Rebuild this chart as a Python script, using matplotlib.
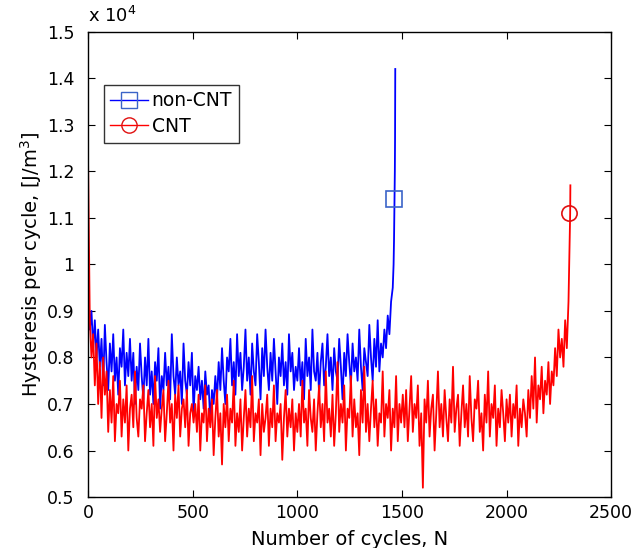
import matplotlib.pyplot as plt
import numpy as np
from matplotlib.lines import Line2D

# hysteresis per cycle, in units of 1e4 J/m^3, sampled every 8 cycles
noncnt_step = 8
noncnt_vals = [
    0.97, 0.86, 0.90, 0.82, 0.88, 0.80, 0.86,
    0.78, 0.84, 0.74, 0.87, 0.79, 0.73, 0.83, 0.77, 0.85, 0.75,
    0.80, 0.72, 0.82, 0.78, 0.86, 0.74, 0.81, 0.76, 0.84,
    0.75, 0.81, 0.70, 0.78, 0.73, 0.83, 0.76, 0.71, 0.80, 0.74,
    0.84, 0.72, 0.77, 0.70, 0.79, 0.75, 0.82, 0.69, 0.76, 0.73,
    0.81, 0.74, 0.78, 0.71, 0.85, 0.76, 0.72, 0.80, 0.74, 0.77,
    0.70, 0.83, 0.75, 0.72, 0.79, 0.74, 0.81, 0.68, 0.76, 0.73,
    0.78, 0.71, 0.75, 0.69, 0.77, 0.72, 0.74, 0.66, 0.73, 0.70,
    0.76, 0.71, 0.79, 0.73, 0.82, 0.75, 0.70, 0.80, 0.77, 0.84,
    0.74, 0.79, 0.72, 0.85, 0.76, 0.81, 0.73, 0.78, 0.86, 0.75,
    0.80, 0.72, 0.83, 0.77, 0.74, 0.85, 0.79, 0.71, 0.82, 0.76,
    0.86, 0.78, 0.73, 0.81, 0.75, 0.84, 0.77, 0.70, 0.80, 0.76,
    0.83, 0.74, 0.79, 0.72, 0.85, 0.77, 0.81, 0.73, 0.78, 0.75,
    0.82, 0.74, 0.79, 0.71, 0.84, 0.76, 0.80, 0.73, 0.86, 0.77,
    0.75, 0.81, 0.72, 0.79, 0.83, 0.74, 0.78, 0.85, 0.76, 0.80,
    0.73, 0.82, 0.77, 0.75, 0.84, 0.78, 0.71, 0.81, 0.76, 0.85,
    0.79, 0.74, 0.83, 0.77, 0.80, 0.75, 0.86, 0.78, 0.73, 0.82,
    0.79, 0.76, 0.87, 0.80, 0.75, 0.84, 0.78, 0.88, 0.77, 0.83,
    0.80, 0.86, 0.82, 0.89, 0.85, 0.92, 0.95,
]
# final run-up to failure
noncnt_tail_n = [1460, 1462, 1464, 1466, 1467, 1468]
noncnt_tail_v = [1.00, 1.05, 1.12, 1.20, 1.27, 1.42]

cnt_first_v = 1.21
cnt_step = 8
cnt_vals = [
    0.88, 0.80, 0.85, 0.74, 0.83, 0.70, 0.79, 0.67, 0.80, 0.72, 0.77, 0.64,
    0.73, 0.66, 0.76, 0.62, 0.70, 0.68, 0.75, 0.63, 0.71, 0.66,
    0.74, 0.60, 0.69, 0.72, 0.65, 0.77, 0.67, 0.63, 0.71, 0.69,
    0.74, 0.62, 0.68, 0.73, 0.65, 0.70, 0.61, 0.76, 0.67, 0.71,
    0.64, 0.69, 0.73, 0.62, 0.68, 0.75, 0.66, 0.70, 0.60, 0.72,
    0.67, 0.74, 0.63, 0.69, 0.71, 0.65, 0.73, 0.61, 0.68, 0.70,
    0.66,
    0.70, 0.64, 0.72, 0.60, 0.68, 0.66, 0.74, 0.62, 0.69, 0.65,
    0.71, 0.59, 0.67, 0.73, 0.63, 0.68, 0.57, 0.70, 0.65, 0.72,
    0.62, 0.69, 0.66, 0.75, 0.61, 0.68, 0.64, 0.71, 0.60, 0.67,
    0.73, 0.63, 0.69, 0.65, 0.76, 0.62, 0.68, 0.66, 0.71, 0.59,
    0.70, 0.64, 0.67, 0.72, 0.61, 0.69, 0.65, 0.74, 0.62, 0.68,
    0.66, 0.70, 0.58, 0.67, 0.73, 0.63, 0.69, 0.65, 0.71, 0.60,
    0.68, 0.64,
    0.70, 0.63, 0.75, 0.66, 0.69, 0.61, 0.73, 0.67, 0.64, 0.71,
    0.60, 0.68, 0.74, 0.65, 0.70, 0.62, 0.77, 0.66, 0.69, 0.63,
    0.72, 0.61, 0.68, 0.79, 0.64, 0.70, 0.66, 0.74, 0.60, 0.69,
    0.67, 0.76, 0.63, 0.71, 0.65, 0.68, 0.59, 0.73, 0.66, 0.78,
    0.64, 0.70, 0.62, 0.69, 0.75, 0.65, 0.71, 0.61, 0.68, 0.66,
    0.77, 0.63, 0.70, 0.67, 0.73, 0.60, 0.69, 0.65, 0.76, 0.62,
    0.70, 0.66, 0.72,
    0.65, 0.73, 0.62, 0.69, 0.76, 0.64, 0.70, 0.67, 0.74, 0.61,
    0.68, 0.52, 0.71, 0.66, 0.75, 0.63, 0.69, 0.72, 0.60, 0.68,
    0.77, 0.65, 0.70, 0.63, 0.73, 0.67, 0.62, 0.71, 0.66, 0.78,
    0.64, 0.69, 0.72, 0.61, 0.68, 0.74, 0.65, 0.70, 0.63, 0.76,
    0.67, 0.62, 0.71, 0.69, 0.75, 0.64, 0.68, 0.60, 0.72, 0.66,
    0.77, 0.63, 0.70, 0.67, 0.74, 0.61, 0.69, 0.65, 0.73, 0.68,
    0.62, 0.71,
    0.66, 0.72, 0.63, 0.70, 0.67, 0.74, 0.61, 0.69, 0.65, 0.71,
    0.68, 0.63, 0.73, 0.67, 0.76, 0.69, 0.80, 0.66, 0.74, 0.71,
    0.78, 0.68, 0.75, 0.72, 0.79, 0.70, 0.77, 0.74, 0.82, 0.76,
    0.86, 0.80, 0.84, 0.78, 0.88, 0.82, 0.92,
]
cnt_tail_n = [2298, 2300, 2302, 2304, 2305]
cnt_tail_v = [0.97, 1.02, 1.06, 1.11, 1.17]

# failure markers
noncnt_fail = (1460, 1.14)
cnt_fail = (2300, 1.11)

plt.rcParams['font.family'] = ['DejaVu Sans']

noncnt_n = np.concatenate([np.arange(len(noncnt_vals)) * noncnt_step, noncnt_tail_n])
noncnt_v = np.concatenate([noncnt_vals, noncnt_tail_v])
cnt_n = np.concatenate([[0], 8 + np.arange(len(cnt_vals)) * cnt_step, cnt_tail_n])
cnt_v = np.concatenate([[cnt_first_v], cnt_vals, cnt_tail_v])

fig = plt.figure(figsize=(6.34, 5.48), dpi=100)
ax = fig.add_axes([0.139, 0.093, 0.825, 0.849])

ax.plot(noncnt_n, noncnt_v, color='#0000ff', lw=1.3)
ax.plot(cnt_n, cnt_v, color='#ff0000', lw=1.3)
ax.plot(*noncnt_fail, marker='s', ms=11, mfc='none', mec='#3b64c8', mew=1.2)
ax.plot(*cnt_fail, marker='o', ms=11, mfc='none', mec='#e01010', mew=1.2)

ax.set_xlim(0, 2500)
ax.set_ylim(0.5, 1.5)
ax.set_xticks(np.arange(0, 2501, 500))
ax.set_yticks(np.arange(0.5, 1.51, 0.1))
ax.set_yticklabels(['0.5', '0.6', '0.7', '0.8', '0.9', '1', '1.1', '1.2', '1.3', '1.4', '1.5'])
ax.tick_params(direction='in', top=True, right=True, labelsize=12.5, length=5, width=0.8)
ax.tick_params(axis='y', pad=10)
ax.tick_params(axis='x', pad=5)
for s in ax.spines.values():
    s.set_linewidth(1.0)

ax.set_xlabel('Number of cycles, N', fontsize=14, labelpad=6)
ax.set_ylabel('Hysteresis per cycle, [J/m$^3$]', fontsize=14, labelpad=2)
ax.text(0.0, 1.012, 'x 10$^4$', transform=ax.transAxes, fontsize=13, va='bottom', ha='left')

handles = [
    Line2D([], [], color='#0000ff', lw=1.0, marker='s', ms=11, mfc='none', mec='#3b64c8'),
    Line2D([], [], color='#ff0000', lw=1.0, marker='o', ms=11, mfc='none', mec='#e01010'),
]
leg = ax.legend(handles, ['non-CNT', 'CNT'], loc='upper left', bbox_to_anchor=(0.03, 0.886),
                borderaxespad=0, fontsize=13.5, fancybox=False, edgecolor='black',
                handlelength=2.0, handletextpad=0.2, labelspacing=0.35, borderpad=0.35,
                numpoints=1)
leg.get_frame().set_linewidth(1.0)

fig.savefig('out.png', dpi=100)
